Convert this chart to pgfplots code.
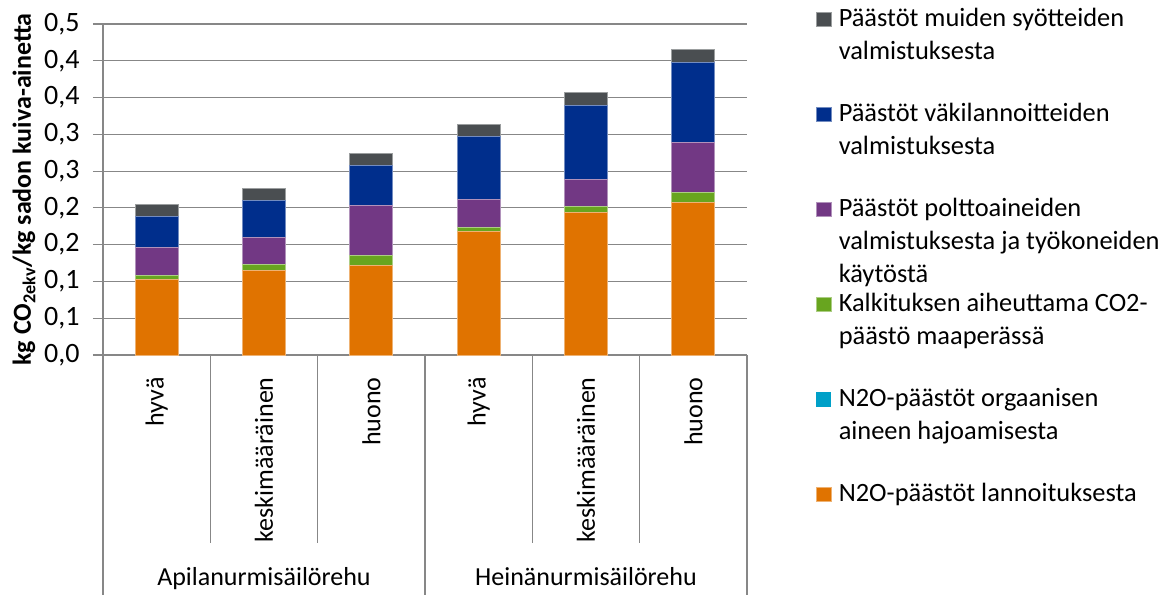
\documentclass[border=0pt]{standalone}
\usepackage{fontspec}
\setmainfont{Carlito}
\usepackage{pgfplots}
\pgfplotsset{compat=1.18}
\definecolor{cgrey}{HTML}{4A4E51}
\definecolor{cblue}{HTML}{002E8C}
\definecolor{cpurple}{HTML}{723884}
\definecolor{cgreen}{HTML}{68A51F}
\definecolor{ccyan}{HTML}{00A0C8}
\definecolor{corange}{HTML}{E07300}
\definecolor{gridgrey}{HTML}{878787}
\newcommand\fsz{\fontsize{13}{16.5}\selectfont}
\newcommand\legtxt[1]{\rule{0pt}{8pt}\smash{\parbox[t]{175pt}{\raggedright\baselineskip=16.4pt #1}}}
\begin{document}
\begin{tikzpicture}
\useasboundingbox (0,0) rectangle (586.5pt,297.5pt);
\begin{axis}[
  at={(51.5pt,120pt)}, anchor=south west,
  scale only axis, width=322pt, height=165.5pt,
  ybar stacked, bar width=0.4,
  xmin=-0.5, xmax=5.5, ymin=0, ymax=0.45,
  clip=false,
  xtick={0,1,2,3,4,5},
  xticklabels={hyvä,keskimääräinen,huono,hyvä,keskimääräinen,huono},
  ytick={0,0.05,0.1,0.15,0.2,0.25,0.3,0.35,0.4,0.45},
  yticklabels={{0,0},{0,1},{0,1},{0,2},{0,2},{0,3},{0,3},{0,4},{0,4},{0,5}},
  ymajorgrids,
  grid style={gridgrey, line width=0.6pt},
  axis x line*=bottom, axis y line*=left,
  axis line style={gridgrey, line width=0.6pt, -},
  x tick style={draw=none},
  y tick style={gridgrey, line width=0.6pt},
  tick align=outside, major tick length=5pt,
  yticklabel style={font=\fontsize{14}{16}\selectfont, inner sep=0pt, xshift=-6.5pt},
  xticklabel style={font=\fsz, inner sep=0pt, yshift=-6pt, rotate=90, anchor=east},
  ylabel={kg CO\textsubscript{2ekv}/kg sadon kuiva-ainetta},
  every axis y label/.style={at={(rel axis cs:0,0.5)}, xshift=-39.5pt, rotate=90, anchor=center, font=\fsz\bfseries},
  legend image code/.code={\fill[#1] (0pt,0pt) rectangle (7.5pt,7.2pt);},
  reverse legend,
  legend cell align=left,
  legend style={at={(rel axis cs:1.1071,1.0402)}, anchor=north west, draw=none, fill=none,
    inner sep=0pt, outer sep=0pt, row sep=38pt, column sep=3.5pt,
    cells={anchor=base west}, nodes={inner sep=0pt, anchor=base west, font=\fontsize{13.2}{16.5}\selectfont}},
]
\addplot[fill=corange, draw=corange!55!white, line width=0.4pt] coordinates {(0,0.1023) (1,0.115) (2,0.1214) (3,0.1677) (4,0.1932) (5,0.2068)};
\addlegendentry{\legtxt{N2O-päästöt lannoituksesta}}
\addplot[fill=ccyan, draw=none] coordinates {(0,0) (1,0) (2,0) (3,0) (4,0) (5,0)};
\addlegendentry{\legtxt{N2O-päästöt orgaanisen\newline aineen hajoamisesta}}
\addplot[fill=cgreen, draw=cgreen!55!white, line width=0.4pt] coordinates {(0,0.0055) (1,0.0077) (2,0.0141) (3,0.0059) (4,0.0082) (5,0.0145)};
\addlegendentry{\legtxt{Kalkituksen aiheuttama CO2-\newline päästö maaperässä}}
\addplot[fill=cpurple, draw=cpurple!55!white, line width=0.4pt] coordinates {(0,0.0382) (1,0.0373) (2,0.0682) (3,0.0382) (4,0.0373) (5,0.0677)};
\addlegendentry{\legtxt{Päästöt polttoaineiden\newline valmistuksesta ja työkoneiden\newline käytöstä}}
\addplot[fill=cblue, draw=cblue!55!white, line width=0.4pt] coordinates {(0,0.0423) (1,0.05) (2,0.0541) (3,0.0855) (4,0.1009) (5,0.1091)};
\addlegendentry{\legtxt{Päästöt väkilannoitteiden\newline valmistuksesta}}
\addplot[fill=cgrey, draw=cgrey!55!white, line width=0.4pt] coordinates {(0,0.0164) (1,0.0164) (2,0.0168) (3,0.0164) (4,0.0168) (5,0.0168)};
\addlegendentry{\legtxt{Päästöt muiden syötteiden\newline valmistuksesta}}
\draw[gridgrey, line width=0.6pt] (axis cs:-0.5,0) -- ++(0pt,-120pt);
\draw[gridgrey, line width=0.6pt] (axis cs:2.5,0) -- ++(0pt,-120pt);
\draw[gridgrey, line width=0.6pt] (axis cs:5.5,0) -- ++(0pt,-120pt);
\draw[gridgrey, line width=0.6pt] (axis cs:0.5,0) -- ++(0pt,-94pt);
\draw[gridgrey, line width=0.6pt] (axis cs:1.5,0) -- ++(0pt,-94pt);
\draw[gridgrey, line width=0.6pt] (axis cs:3.5,0) -- ++(0pt,-94pt);
\draw[gridgrey, line width=0.6pt] (axis cs:4.5,0) -- ++(0pt,-94pt);
\node[anchor=base, font=\fsz, inner sep=0pt] at ([yshift=-115pt]axis cs:1,0) {Apilanurmisäilörehu};
\node[anchor=base, font=\fsz, inner sep=0pt] at ([yshift=-115pt]axis cs:4,0) {Heinänurmisäilörehu};
\end{axis}
\end{tikzpicture}
\end{document}
